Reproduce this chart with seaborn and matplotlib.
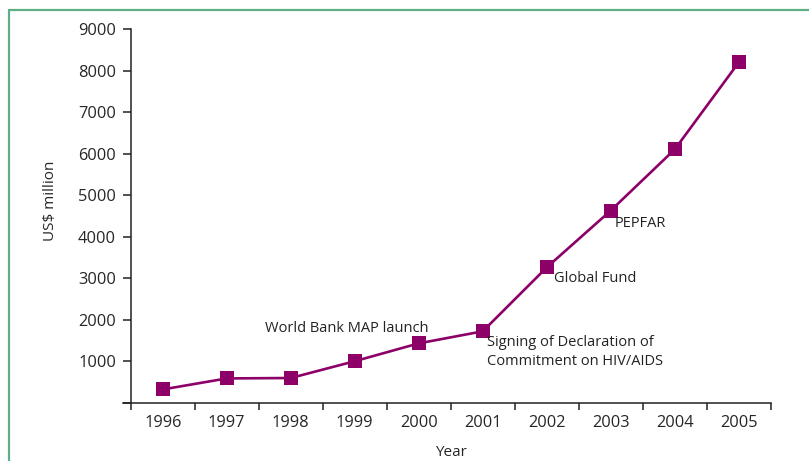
import numpy as np
import pandas as pd
import matplotlib
matplotlib.use('Agg')
import matplotlib.pyplot as plt
from matplotlib.lines import Line2D
import seaborn as sns

# Data
years = ['1996', '1997', '1998', '1999', '2000', '2001', '2002', '2003', '2004', '2005']
spending = [320, 585, 595, 1000, 1430, 1720, 3260, 4630, 6105, 8200]
y_ticks = [0, 1000, 2000, 3000, 4000, 5000, 6000, 7000, 8000, 9000]

# Event annotations: (text, year index, value, ha)
events = [
    ('World Bank MAP launch', 2.88, 1790, 'center'),
    ('Signing of Declaration of\nCommitment on HIV/AIDS', 5.07, 1215, 'left'),
    ('Global Fund', 6.11, 2985, 'left'),
    ('PEPFAR', 7.06, 4330, 'left'),
]

LINE_COLOR = '#8C0068'
FRAME_COLOR = '#5fae86'

sns.set_style('white')
plt.rcParams['font.family'] = ['Open Sans', 'DejaVu Sans']
plt.rcParams['text.color'] = '#222222'

df = pd.DataFrame({'year': years, 'spending': spending})

fig = plt.figure(figsize=(8.09, 4.61), dpi=100)
ax = fig.add_axes([130.7 / 809, 58.3 / 461, 640 / 809, 373.4 / 461])

sns.pointplot(data=df, x='year', y='spending', color=LINE_COLOR, markers='s',
              markersize=9.5, linewidth=1.9, ax=ax)
for line in ax.lines:
    line.set_markeredgewidth(0)

ax.set_xlim(-0.5, len(years) - 0.5)
ax.set_ylim(0, 9000)

# boundary ticks between years, labels centred on each year
ax.set_xticks(np.arange(-0.5, len(years), 1.0))
ax.set_xticklabels([])
ax.set_xticks(np.arange(len(years)), minor=True)
ax.set_xticklabels(years, minor=True)
ax.tick_params(axis='x', which='major', direction='out', length=5, width=1.1,
               color='#222222', bottom=True)
ax.tick_params(axis='x', which='minor', length=0, pad=9, labelsize=11.8)

ax.set_yticks(y_ticks)
ax.set_yticklabels([''] + [str(v) for v in y_ticks[1:]])
ax.tick_params(axis='y', direction='out', length=5.5, width=1.1, color='#222222',
               left=True, pad=5, labelsize=11.8)

for side in ['top', 'right']:
    ax.spines[side].set_visible(False)
for side in ['left', 'bottom']:
    ax.spines[side].set_color('#222222')
    ax.spines[side].set_linewidth(1.1)
ax.spines['bottom'].set_bounds(-0.62, len(years) - 0.5)

ax.set_xlabel('Year', fontsize=11)
ax.xaxis.set_label_coords(0.5, -0.112)
ax.set_ylabel('US$ million', fontsize=11)
ax.yaxis.set_label_coords(-0.113, 0.54)

for text, xpos, ypos, ha in events:
    ax.text(xpos, ypos, text, ha=ha, va='center', fontsize=10.5, linespacing=1.35)

# green frame on the top and left edges
fig.add_artist(Line2D([8.5 / 809, 8.5 / 809], [0, 1 - 10 / 461],
                      transform=fig.transFigure, color=FRAME_COLOR, linewidth=1.6))
fig.add_artist(Line2D([8.5 / 809, 1], [1 - 10 / 461, 1 - 10 / 461],
                      transform=fig.transFigure, color=FRAME_COLOR, linewidth=1.6))

fig.savefig('out.png', dpi=100)
